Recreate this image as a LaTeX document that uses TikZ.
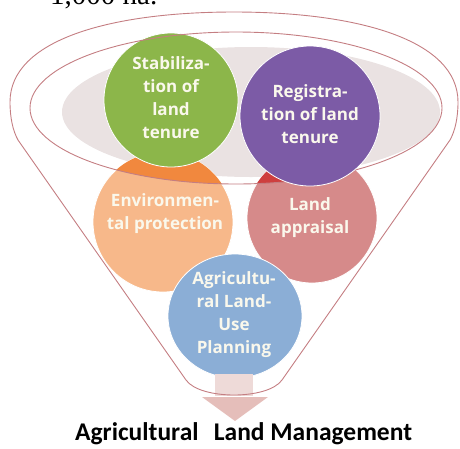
\documentclass[tikz,border=0pt]{standalone}
\usepackage{fontspec}
\usepackage{tikz}
\usetikzlibrary{shapes.geometric}
\newfontfamily\circfont{Open Sans}
\newfontfamily\titlefont{Carlito}
\newfontfamily\notefont{Liberation Serif}
\definecolor{stabgreen}{RGB}{140,182,74}
\definecolor{regpurple}{RGB}{124,91,166}
\definecolor{envorange}{RGB}{247,184,138}
\definecolor{envdark}{RGB}{241,136,62}
\definecolor{apprpink}{RGB}{214,138,138}
\definecolor{apprdark}{RGB}{206,62,62}
\definecolor{planblue}{RGB}{139,174,214}
\definecolor{rimgrey}{RGB}{234,226,226}
\definecolor{rimred}{RGB}{196,126,130}
\definecolor{stempink}{RGB}{238,218,216}
\definecolor{headpink}{RGB}{229,190,186}
\definecolor{textwhite}{RGB}{250,248,236}
\begin{document}
\begin{tikzpicture}[x=1pt, y=-1pt,
    circtext/.style={align=center, text=textwhite, inner sep=0pt,
      font=\circfont\bfseries\fontsize{17}{23}\selectfont},
    rim/.style={draw=rimred, line width=0.9pt},
    ball/.style={draw=white, line width=0.8pt}]
  \useasboundingbox (0,0) rectangle (460,448);
  \clip (0,0) rectangle (460,448);
  % cut-off line of the page above
  \node[anchor=base west, inner sep=0pt, font=\notefont\fontsize{29}{29}\selectfont] (note) at (50,4) {1,000 ha.};
  % grey highlight inside the rim
  \begin{scope}
    \clip (236,108) ellipse [x radius=206pt, y radius=76pt];
    \fill[rimgrey] (251,112) ellipse [x radius=189pt, y radius=65pt];
  \end{scope}
  % lower circles
  \filldraw[ball, fill=envorange] (163,222) circle (70pt);
  \filldraw[ball, fill=apprpink] (312,218) circle (65pt);
  \filldraw[ball, fill=planblue] (235,316) ellipse [x radius=67pt, y radius=62pt];
  % darker where they reach into the rim
  \begin{scope}
    \clip (236,108) ellipse [x radius=206pt, y radius=76pt];
    \fill[envdark] (163,222) circle (70pt);
    \fill[apprdark] (312,218) circle (65pt);
  \end{scope}
  \filldraw[ball, fill=stabgreen] (171,100) circle (67pt);
  % arrow out of the funnel
  \fill[stempink] (215,374) rectangle (253,396);
  \fill[headpink] (202,397) -- (268,397) -- (235,421) -- cycle;
  % funnel outline and rim
  \draw[rim] (18,140) .. controls (13,131) and (10,118) .. (10,102)
    .. controls (10,40) and (110,12) .. (234,12)
    .. controls (358,12) and (458,40) .. (458,102)
    .. controls (458,118) and (455,131) .. (450,140) -- (282,380)
    .. controls (268,400) and (200,400) .. (186,380) -- cycle;
  \draw[rim] (236,108) ellipse [x radius=206pt, y radius=76pt];
  \filldraw[ball, fill=regpurple] (310,116) circle (70pt);
  % texts
  \node[circtext] (stab) at (171,98) {Stabiliza-\\tion of\\land\\tenure};
  \node[circtext] (reg) at (310,114) {Registra-\\tion of land\\tenure};
  \node[circtext] (env) at (165,214) {Environmen-\\tal protection};
  \node[circtext] (appr) at (310,218) {Land\\appraisal};
  \node[circtext] (plan) at (234,315) {Agricultu-\\ral Land-\\Use\\Planning};
  \node[anchor=base west, inner sep=0pt, font=\titlefont\bfseries\fontsize{25.5}{25.5}\selectfont] (title) at (75,440) {Agricultural\hspace{0.6em}Land Management};
\end{tikzpicture}
\end{document}
